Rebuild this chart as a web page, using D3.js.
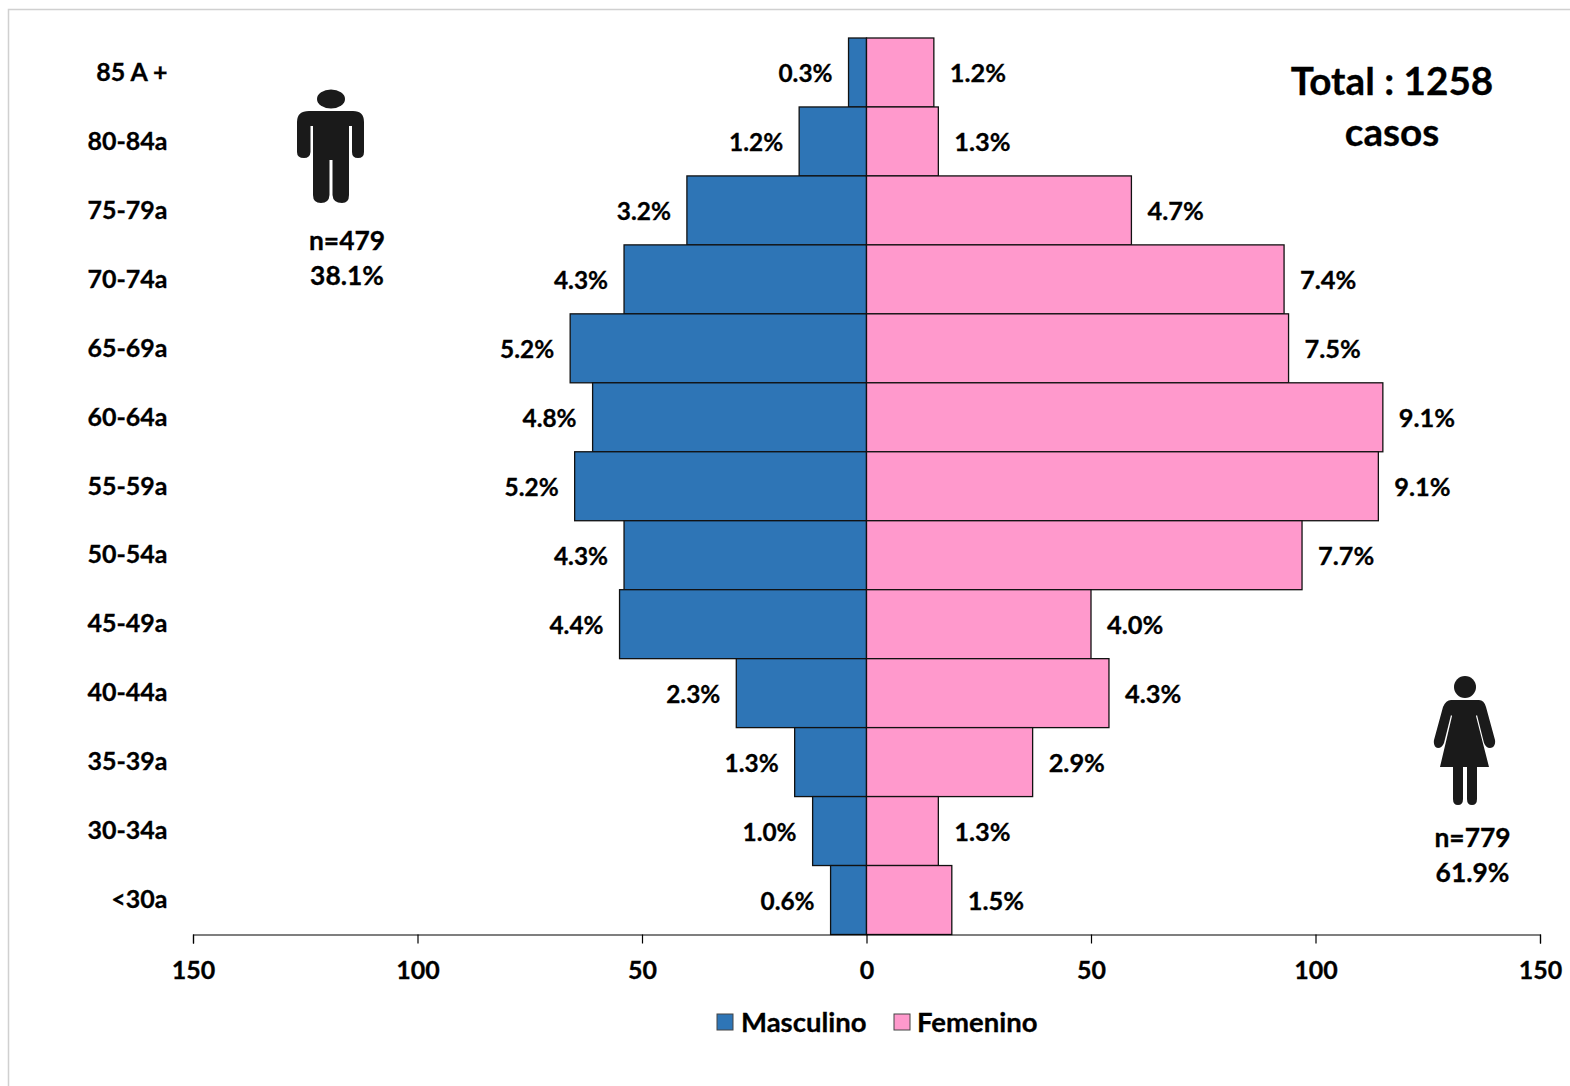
<!DOCTYPE html>
<html>
<head>
<meta charset="utf-8">
<script src="https://d3js.org/d3.v7.min.js"></script>
<style>
    html, body { margin: 0; padding: 0; background: #fff; }
    text { font-family: Lato, "Open Sans", sans-serif; font-weight: 700; fill: #000; stroke: #000; stroke-width: 0.3px; }
</style>
</head>
<body>
<div id="chart"></div>
<script>
// age groups, top to bottom
var ageGroups = ["85 A +", "80-84a", "75-79a", "70-74a", "65-69a", "60-64a", "55-59a", "50-54a", "45-49a", "40-44a", "35-39a", "30-34a", "<30a"];
var maleCases = [4, 15, 40, 54, 66, 61, 65, 54, 55, 29, 16, 12, 8];
var femaleCases = [15, 16, 59, 93, 94, 115, 114, 97, 50, 54, 37, 16, 19];
var malePct = ["0.3%", "1.2%", "3.2%", "4.3%", "5.2%", "4.8%", "5.2%", "4.3%", "4.4%", "2.3%", "1.3%", "1.0%", "0.6%"];
var femalePct = ["1.2%", "1.3%", "4.7%", "7.4%", "7.5%", "9.1%", "9.1%", "7.7%", "4.0%", "4.3%", "2.9%", "1.3%", "1.5%"];
var xTicks = [-150, -100, -50, 0, 50, 100, 150];

var svgWidth = 1570;
var svgHeight = 1086;
var blue = "#2e75b6";
var pink = "#ff99cc";

var svg = d3.select("#chart")
    .append("svg")
    .attr("width", svgWidth)
    .attr("height", svgHeight)
    .style("display", "block");

// thin grey frame of the pasted slide
svg.append("rect")
    .attr("x", 8.5)
    .attr("y", 9.5)
    .attr("width", 1600)
    .attr("height", 1200)
    .attr("fill", "none")
    .attr("stroke", "#d0d0d0")
    .attr("stroke-width", 1.5);

var x = d3.scaleLinear().domain([-150, 150]).range([193, 1540]);
var y = d3.scaleBand().domain(ageGroups).range([38, 934.5]);

var rows = ageGroups.map(function(d, i) {
    return { age: d, male: maleCases[i], female: femaleCases[i], mp: malePct[i], fp: femalePct[i] };
});

svg.selectAll(".male")
    .data(rows)
    .enter()
    .append("rect")
    .attr("class", "male")
    .attr("x", d => x(-d.male))
    .attr("y", d => y(d.age))
    .attr("width", d => x(0) - x(-d.male))
    .attr("height", y.bandwidth())
    .attr("fill", blue)
    .attr("stroke", "#111")
    .attr("stroke-width", 1.3);

svg.selectAll(".female")
    .data(rows)
    .enter()
    .append("rect")
    .attr("class", "female")
    .attr("x", x(0))
    .attr("y", d => y(d.age))
    .attr("width", d => x(d.female) - x(0))
    .attr("height", y.bandwidth())
    .attr("fill", pink)
    .attr("stroke", "#111")
    .attr("stroke-width", 1.3);

// value labels
svg.selectAll(".maleLabel")
    .data(rows)
    .enter()
    .append("text")
    .attr("x", d => x(-d.male) - 16)
    .attr("y", d => y(d.age) + y.bandwidth() / 2 + 1)
    .attr("dy", "0.35em")
    .attr("text-anchor", "end")
    .attr("font-size", "24.4px")
    .text(d => d.mp);

svg.selectAll(".femaleLabel")
    .data(rows)
    .enter()
    .append("text")
    .attr("x", d => x(d.female) + 16)
    .attr("y", d => y(d.age) + y.bandwidth() / 2 + 1)
    .attr("dy", "0.35em")
    .attr("font-size", "25.4px")
    .text(d => d.fp);

// age labels
svg.selectAll(".ageLabel")
    .data(rows)
    .enter()
    .append("text")
    .attr("x", 167.5)
    .attr("y", d => y(d.age) + y.bandwidth() / 2 - 0.5)
    .attr("dy", "0.35em")
    .attr("text-anchor", "end")
    .attr("font-size", "25px")
    .text(d => d.age);

// x axis
var bottomAxis = d3.axisBottom(x)
    .tickValues(xTicks)
    .tickSize(9)
    .tickPadding(15)
    .tickFormat(d => Math.abs(d));

var xAxisG = svg.append("g")
    .attr("transform", "translate(0, 934.5)")
    .call(bottomAxis);
xAxisG.selectAll("text")
    .attr("y", 35.5)
    .attr("dy", "0.35em")
    .attr("font-size", "25px")
    .style("font-family", "Lato")
    .style("font-weight", 700);
xAxisG.selectAll("line, path").attr("stroke", "#000").attr("stroke-width", 1.2);

// legend
var legend = [
    { label: "Masculino", color: blue, boxX: 717, textX: 741 },
    { label: "Femenino", color: pink, boxX: 894, textX: 917 }
];
legend.forEach(function(l) {
    svg.append("rect")
        .attr("x", l.boxX)
        .attr("y", 1014)
        .attr("width", 16)
        .attr("height", 16)
        .attr("fill", l.color)
        .attr("stroke", "#444")
        .attr("stroke-width", 1);
    svg.append("text")
        .attr("x", l.textX)
        .attr("y", 1022)
        .attr("dy", "0.35em")
        .attr("font-size", "27.5px")
        .text(l.label);
});

// annotations
function centered(txt, cx, cy, size) {
    svg.append("text")
        .attr("x", cx)
        .attr("y", cy)
        .attr("dy", "0.35em")
        .attr("text-anchor", "middle")
        .attr("font-size", size)
        .text(txt);
}
centered("Total : 1258", 1392, 81, "38.7px");
centered("casos", 1392, 132, "38.7px");
centered("n=479", 347, 241, "26.4px");
centered("38.1%", 347, 276, "26.4px");
centered("n=779", 1472.5, 838, "26.4px");
centered("61.9%", 1472.5, 873, "26.4px");

// man icon
var man = svg.append("g").attr("fill", "#1a1a1a");
man.append("ellipse").attr("cx", 331).attr("cy", 99).attr("rx", 14).attr("ry", 9.5);
man.append("path").attr("d",
    "M309 111 H353 Q364 111 364 122 V152 Q364 158 358 158 Q352 158 352 152 V126 H349 V195 Q349 203 342 203 Q333 203 332.5 195 V160 H329.5 V195 Q329 203 321 203 Q313 203 313 195 V126 H310.5 V152 Q310 158 304 158 Q297 158 297 152 V122 Q297 111 309 111 Z");

// woman icon
var woman = svg.append("g").attr("fill", "#1a1a1a");
woman.append("circle").attr("cx", 1465).attr("cy", 687).attr("r", 11);
woman.append("path").attr("d",
    "M1451 700 H1479 Q1484 700 1486 707 L1495 740 Q1496 747 1490 748 Q1486 748 1484 743 L1477 715 L1476 716 L1489 767 H1477 V799 Q1477 805 1472 805 Q1467 805 1467 799 V767 H1463 V799 Q1463 805 1458 805 Q1453 805 1453 799 V767 H1440 L1452 716 L1451 715 L1444 743 Q1442 748 1438 748 Q1433 747 1434 740 L1443 707 Q1446 700 1451 700 Z");
</script>
</body>
</html>
